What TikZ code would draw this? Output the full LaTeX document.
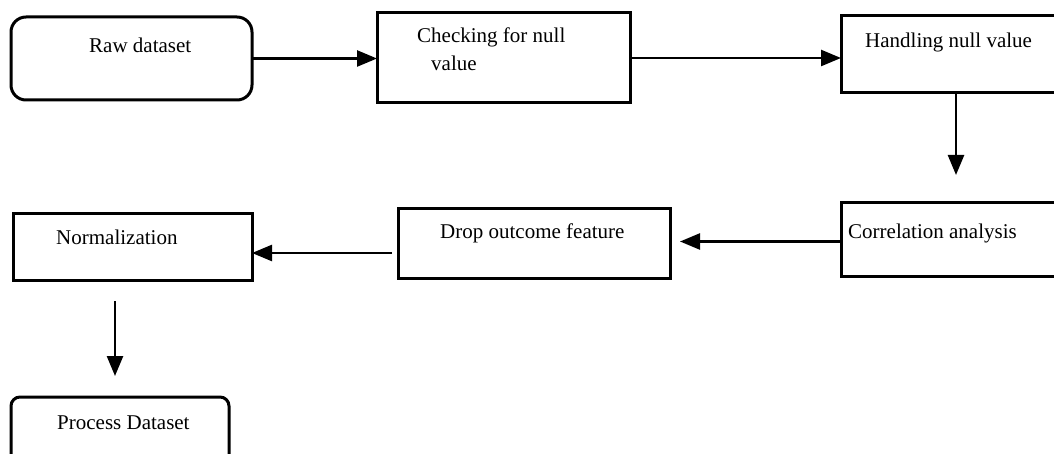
\documentclass[tikz,border=0pt]{standalone}
\usepackage{fontspec}
\setmainfont{Liberation Serif}
\usetikzlibrary{arrows.meta}
\begin{document}
\begin{tikzpicture}[x=1pt,y=-1pt,
  box/.style={draw, line width=3pt, anchor=north west, inner sep=0pt, outer sep=0pt},
  lbl/.style={anchor=base west, inner sep=0pt, font=\fontsize{21}{25}\selectfont},
  arr/.style={line width=2.5pt, -{Triangle[length=20pt,width=16pt]}}]
\clip (0,0) rectangle (1054,454);
\fill[white] (0,0) rectangle (1054,454);
% boxes
\node[box, rounded corners=15pt, minimum width=241pt, minimum height=83pt] (raw) at (11,17) {};
\node[box, minimum width=253pt, minimum height=90pt] (check) at (377,13) {};
\node[box, minimum width=230pt, minimum height=77pt] (hand) at (841,16) {};
\node[box, minimum width=230pt, minimum height=73pt] (corr) at (841,203) {};
\node[box, minimum width=272pt, minimum height=69pt] (drop) at (398,209) {};
\node[box, minimum width=239pt, minimum height=66pt] (norm) at (13,214) {};
\node[box, rounded corners=9pt, minimum width=218pt, minimum height=70pt] (proc) at (11,397) {};
% labels
\node[lbl] (trw) at (89,53) {Raw dataset};
\node[lbl] (tc1) at (417,43) {Checking for null};
\node[lbl] (tc2) at (431,71) {value};
\node[lbl] (thd) at (865,48) {Handling null value};
\node[lbl] (tcr) at (848,239) {Correlation analysis};
\node[lbl] (tdr) at (440,239) {Drop outcome feature};
\node[lbl] (tnm) at (56,244) {Normalization};
\node[lbl] (tpr) at (57,429) {Process Dataset};
% connector end points
\coordinate (c1) at ([shift={(0,2)}]corr.west);
\coordinate (d1) at ([shift={(10,0)}]drop.east |- c1);
\coordinate (d2) at ([shift={(-6,9.5)}]drop.west);
\coordinate (n1) at (norm.east |- d2);
\coordinate (n2) at ([shift={(-17.5,21)}]norm.south);
\coordinate (p1) at ([shift={(-17.5,-21)}]proc.north -| n2);
% connectors
\draw[arr] (raw.east) -- (raw.east -| check.west);
\draw[arr] (check.east) -- (check.east -| hand.west);
\draw[arr] (hand.south) -- ++(0,82);
\draw[arr] (c1) -- (d1);
\draw[arr] (d2) -- (n1);
\draw[arr] (n2) -- (n2 |- p1);
\end{tikzpicture}
\end{document}
